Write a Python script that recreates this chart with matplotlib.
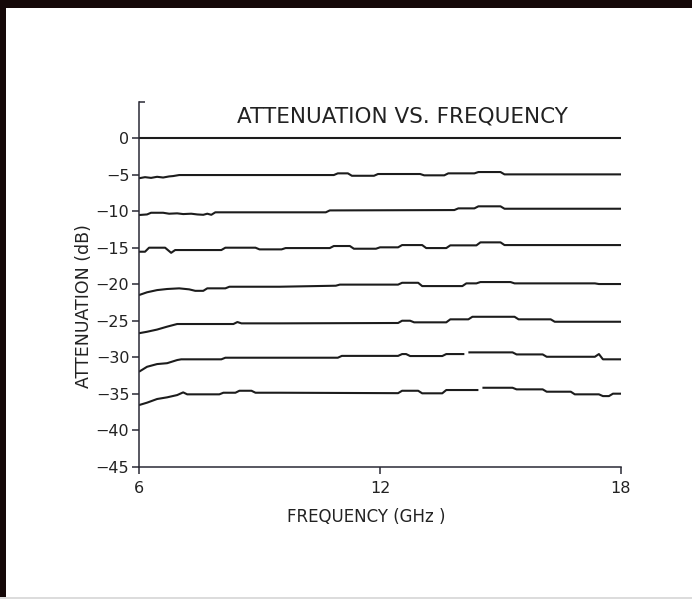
import matplotlib
matplotlib.use("Agg")
import matplotlib.pyplot as plt
from matplotlib.patches import Rectangle

nan = float("nan")

# ---- data (frequency in GHz, attenuation in dB) ----
freq_0 = [6.0, 12.0, 18.0]
att_0 = [0.0, 0.0, 0.0]

freq_5 = [6.0, 6.15, 6.3, 6.45, 6.6, 6.75, 6.85, 7.0, 10.85, 10.95, 11.2, 11.3, 11.85, 11.95,
          13.0, 13.1, 13.6, 13.7, 14.35, 14.45, 15.0, 15.1, 18.0]
att_5 = [-5.5, -5.35, -5.45, -5.3, -5.4, -5.25, -5.2, -5.06, -5.06, -4.83, -4.83, -5.16, -5.16, -4.92,
         -4.92, -5.1, -5.1, -4.83, -4.83, -4.65, -4.65, -4.97, -4.97]

freq_10 = [6.0, 6.2, 6.3, 6.6, 6.75, 6.95, 7.1, 7.3, 7.45, 7.6, 7.7, 7.8, 7.9, 10.65, 10.75,
           13.85, 13.95, 14.35, 14.45, 15.0, 15.1, 18.0]
att_10 = [-10.53, -10.45, -10.22, -10.22, -10.35, -10.3, -10.4, -10.35, -10.45, -10.5, -10.35, -10.5,
          -10.16, -10.16, -9.9, -9.85, -9.62, -9.62, -9.34, -9.34, -9.67, -9.67]

freq_15 = [6.0, 6.15, 6.25, 6.65, 6.8, 6.9, 8.05, 8.15, 8.9, 9.0, 9.55, 9.65, 10.75, 10.85, 11.25,
           11.35, 11.9, 12.0, 12.45, 12.55, 13.05, 13.15, 13.65, 13.75, 14.4, 14.5, 15.0, 15.1, 18.0]
att_15 = [-15.55, -15.55, -15.0, -15.0, -15.7, -15.32, -15.32, -15.0, -15.0, -15.23, -15.23, -15.05,
          -15.05, -14.77, -14.77, -15.14, -15.14, -14.95, -14.95, -14.64, -14.64, -15.05, -15.05,
          -14.68, -14.68, -14.27, -14.27, -14.64, -14.64]

freq_20 = [6.0, 6.2, 6.45, 6.7, 7.0, 7.25, 7.4, 7.6, 7.7, 8.15, 8.25, 9.5, 10.9, 11.0, 12.45, 12.55,
           12.95, 13.05, 14.05, 14.15, 14.4, 14.5, 15.25, 15.35, 17.35, 17.45, 18.0]
att_20 = [-21.48, -21.1, -20.8, -20.65, -20.56, -20.7, -20.9, -20.9, -20.56, -20.56, -20.34, -20.34,
          -20.2, -20.05, -20.05, -19.8, -19.8, -20.25, -20.25, -19.88, -19.88, -19.7, -19.7, -19.88,
          -19.88, -19.97, -19.97]

freq_25 = [6.0, 6.2, 6.45, 6.7, 6.95, 8.35, 8.45, 8.55, 9.5, 12.45, 12.55, 12.75, 12.85, 13.65,
           13.75, 14.2, 14.3, 15.35, 15.45, 16.25, 16.35, 18.0]
att_25 = [-26.7, -26.5, -26.2, -25.8, -25.44, -25.44, -25.17, -25.35, -25.35, -25.3, -24.99, -24.99,
          -25.21, -25.21, -24.8, -24.8, -24.45, -24.45, -24.8, -24.8, -25.13, -25.13]

freq_30 = [6.0, 6.2, 6.45, 6.7, 6.95, 7.05, 8.05, 8.15, 10.95, 11.05, 12.45, 12.55, 12.65, 12.75,
           13.55, 13.65, 14.1, 14.15, 14.2, 15.3, 15.4, 16.05, 16.15, 17.35, 17.45, 17.55, 18.0]
att_30 = [-31.97, -31.29, -30.92, -30.8, -30.37, -30.27, -30.27, -30.05, -30.05, -29.8, -29.8, -29.55,
          -29.55, -29.82, -29.82, -29.55, -29.55, nan, -29.32, -29.32, -29.6, -29.6, -29.92, -29.92,
          -29.55, -30.27, -30.27]

freq_35 = [6.0, 6.2, 6.45, 6.7, 6.95, 7.1, 7.2, 8.0, 8.1, 8.4, 8.5, 8.8, 8.9, 9.5, 12.45, 12.55,
           12.95, 13.05, 13.55, 13.65, 14.45, 14.5, 14.55, 15.3, 15.4, 16.05, 16.15, 16.75, 16.85,
           17.45, 17.55, 17.7, 17.8, 18.0]
att_35 = [-36.53, -36.2, -35.7, -35.47, -35.16, -34.79, -35.06, -35.06, -34.84, -34.84, -34.57, -34.57,
          -34.84, -34.84, -34.9, -34.57, -34.57, -34.92, -34.92, -34.47, -34.47, nan, -34.16, -34.16,
          -34.38, -34.38, -34.7, -34.7, -35.06, -35.06, -35.3, -35.3, -34.97, -34.97]

x_ticks = [6, 12, 18]
x_tick_labels = ["6", "12", "18"]
y_ticks = [0, -5, -10, -15, -20, -25, -30, -35, -40, -45]
y_tick_labels = ["0", "\u22125", "\u221210", "\u221215", "\u221220", "\u221225",
                 "\u221230", "\u221235", "\u221240", "\u221245"]

title = "ATTENUATION VS. FREQUENCY"
x_label = "FREQUENCY (GHz )"
y_label = "ATTENUATION (dB)"

# ---- figure ----
W, H = 692, 599
fig = plt.figure(figsize=(W / 100, H / 100), dpi=100)
fig.patch.set_facecolor("white")

ax = fig.add_axes([139 / W, 1 - 467 / H, (621 - 139) / W, (467 - 101.5) / H])
ax.set_xlim(6, 18)
ax.set_ylim(-45, 5)

line_color = "#1c1c1c"
series = [(freq_0, att_0), (freq_5, att_5), (freq_10, att_10), (freq_15, att_15),
          (freq_20, att_20), (freq_25, att_25), (freq_30, att_30), (freq_35, att_35)]
for fx, fy in series:
    ax.plot(fx, fy, color=line_color, lw=1.5, solid_joinstyle="round", solid_capstyle="butt")

for side in ("top", "right"):
    ax.spines[side].set_visible(False)
for side in ("left", "bottom"):
    ax.spines[side].set_color("#2a2a35")
    ax.spines[side].set_linewidth(1.1)

ax.set_xticks(x_ticks)
ax.set_xticklabels(x_tick_labels)
ax.set_yticks(y_ticks)
ax.set_yticklabels(y_tick_labels)
ax.set_yticks([5], minor=True)
ax.tick_params(axis="both", which="major", colors="#2a2a35", labelcolor="#222222",
               labelsize=11.5, width=1.1, length=5)
ax.tick_params(axis="y", which="minor", direction="in", length=4, width=1.1,
               colors="#2a2a35", labelleft=False)
ax.tick_params(axis="y", which="major", pad=2)
ax.tick_params(axis="x", which="major", pad=5)

ax.text(0.546, 0.959, title, transform=ax.transAxes, ha="center", va="center",
        fontsize=15.5, color="#222222")

fig.text(366 / W, 1 - 517 / H, x_label, ha="center", va="center", fontsize=12, color="#222222")
fig.text(84 / W, 1 - 306 / H, y_label, ha="center", va="center", rotation=90,
         fontsize=12.5, color="#222222")

# frame of the scanned picture
fig.add_artist(Rectangle((0, 1 - 8 / H), 1, 8 / H, transform=fig.transFigure,
                         facecolor="#150808", edgecolor="none"))
fig.add_artist(Rectangle((0, 0), 6 / W, 1, transform=fig.transFigure,
                         facecolor="#150808", edgecolor="none"))
fig.add_artist(Rectangle((0, 0), 1, 2 / H, transform=fig.transFigure,
                         facecolor="#dcdcdc", edgecolor="none"))

fig.savefig("out.png", dpi=100)
